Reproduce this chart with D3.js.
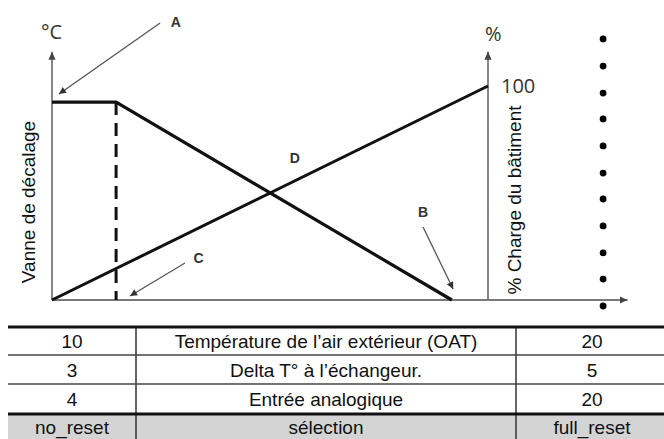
<!DOCTYPE html>
<html>
<head>
<meta charset="utf-8">
<script src="https://cdn.jsdelivr.net/npm/d3@7/dist/d3.min.js"></script>
<style>
  html, body { margin: 0; padding: 0; background: #fff; }
  svg { display: block; }
  .cell-text { font-family: "Liberation Sans", Arial, sans-serif; font-size: 19px; fill: #111; }
  .axis-title { font-family: "Liberation Sans", Arial, sans-serif; font-size: 19px; fill: #111; }
  .unit { font-family: "Open Sans", sans-serif; font-size: 20px; fill: #333; }
  .tag { font-family: "Liberation Sans", Arial, sans-serif; font-size: 14px; font-weight: bold; fill: #333; }
</style>
</head>
<body>
<svg id="chart" width="664" height="439"></svg>
<script>
// temperature curve (°C side) : plateau then decline
const tempLine = [[0, 92.5], [14.7, 92.5], [91.7, 0]];
// building load (% side)
const loadLine = [[0, 0], [100, 100]];
const breakX = 14.7;
const axisTopY = 116;
const axisEndX = 132;
const dotX = 126.4;
const dotValues = [122.0, 109.3, 96.7, 84.6, 72.0, 59.3, 47.2, 34.6, 22.0, 9.8, -2.8];

// annotations: label, label position, arrow start, arrow end
const tags = [
  { label: "A", at: [28.4, 127.6], from: [24.8, 129.4], to: [1.6, 96.3] },
  { label: "B", at: [85.1, 38.8], from: [85.1, 34.1], to: [92.0, 5.1] },
  { label: "C", at: [33.6, 17.3], from: [30.5, 17.3], to: [17.9, 1.9] },
  { label: "D", at: [55.7, 64.0], from: null, to: null }
];

const leftTitle = "Vanne de décalage";
const rightTitle = "% Charge du bâtiment";
const rightTick = "100";

// table
const colMin = ["10", "3", "4", "no_reset"];
const colLabel = ["Température de l’air extérieur (OAT)", "Delta T° à l’échangeur.", "Entrée analogique", "sélection"];
const colMax = ["20", "5", "20", "full_reset"];

const svg = d3.select("#chart");

const x = d3.scaleLinear().domain([0, 100]).range([52, 488]);
const y = d3.scaleLinear().domain([0, 100]).range([300, 86]);

const defs = svg.append("defs");
defs.append("marker")
    .attr("id", "axisHead")
    .attr("viewBox", "0 0 10 10")
    .attr("refX", 10).attr("refY", 5)
    .attr("markerWidth", 8).attr("markerHeight", 8)
    .attr("markerUnits", "userSpaceOnUse")
    .attr("orient", "auto")
  .append("path")
    .attr("d", "M0,0.5L10,5L0,9.5Z")
    .attr("fill", "#444");

defs.append("marker")
    .attr("id", "tagHead")
    .attr("viewBox", "0 0 10 10")
    .attr("refX", 10).attr("refY", 5)
    .attr("markerWidth", 8).attr("markerHeight", 7)
    .attr("markerUnits", "userSpaceOnUse")
    .attr("orient", "auto")
  .append("path")
    .attr("d", "M0,0L10,5L0,10Z")
    .attr("fill", "#333");

const axisColor = "#7a7a7a";

// axes
svg.append("line")
    .attr("x1", x(0)).attr("y1", y(0))
    .attr("x2", x(axisEndX)).attr("y2", y(0))
    .attr("stroke", axisColor).attr("stroke-width", 2)
    .attr("marker-end", "url(#axisHead)");

svg.append("line")
    .attr("x1", x(0)).attr("y1", y(0))
    .attr("x2", x(0)).attr("y2", y(axisTopY))
    .attr("stroke", axisColor).attr("stroke-width", 1.8)
    .attr("marker-end", "url(#axisHead)");

svg.append("line")
    .attr("x1", x(100)).attr("y1", y(0))
    .attr("x2", x(100)).attr("y2", y(axisTopY))
    .attr("stroke", axisColor).attr("stroke-width", 1.8)
    .attr("marker-end", "url(#axisHead)");

// units
svg.append("text").attr("class", "unit")
    .attr("x", x(0) - 11).attr("y", y(axisTopY) - 13)
    .text("°C");
svg.append("text").attr("class", "unit")
    .attr("x", x(100) - 3).attr("y", y(axisTopY) - 11)
    .text("%");
svg.append("text").attr("class", "unit")
    .attr("x", x(100) + 13).attr("y", y(100) + 7)
    .text(rightTick);

// axis titles
svg.append("text").attr("class", "axis-title")
    .attr("transform", `translate(35,${(y(0) + y(100)) / 2 + 9}) rotate(-90)`)
    .attr("text-anchor", "middle")
    .text(leftTitle);
svg.append("text").attr("class", "axis-title")
    .attr("transform", `translate(${x(100) + 33},${(y(0) + y(100)) / 2 + 7}) rotate(-90)`)
    .attr("text-anchor", "middle")
    .text(rightTitle);

// curves
const line = d3.line().x(d => x(d[0])).y(d => y(d[1]));

svg.append("path")
    .datum(loadLine)
    .attr("d", line)
    .attr("fill", "none").attr("stroke", "#111").attr("stroke-width", 3);

svg.append("path")
    .datum(tempLine)
    .attr("d", line)
    .attr("fill", "none").attr("stroke", "#111").attr("stroke-width", 3.2)
    .attr("stroke-linejoin", "miter");

svg.append("line")
    .attr("x1", x(breakX)).attr("y1", y(tempLine[1][1]))
    .attr("x2", x(breakX)).attr("y2", y(0))
    .attr("stroke", "#111").attr("stroke-width", 3)
    .attr("stroke-dasharray", "13,8");

// dotted column
svg.selectAll(".dot")
    .data(dotValues)
    .join("circle")
    .attr("class", "dot")
    .attr("cx", x(dotX))
    .attr("cy", d => y(d))
    .attr("r", 3.4)
    .attr("fill", "#000");

// annotations
const tagArrows = tags.filter(t => t.from);
svg.selectAll(".tag-arrow")
    .data(tagArrows)
    .join("line")
    .attr("class", "tag-arrow")
    .attr("x1", d => x(d.from[0])).attr("y1", d => y(d.from[1]))
    .attr("x2", d => x(d.to[0])).attr("y2", d => y(d.to[1]))
    .attr("stroke", "#555").attr("stroke-width", 1.3)
    .attr("marker-end", "url(#tagHead)");

svg.selectAll(".tag")
    .data(tags)
    .join("text")
    .attr("class", "tag")
    .attr("x", d => x(d.at[0]))
    .attr("y", d => y(d.at[1]))
    .attr("text-anchor", "middle")
    .text(d => d.label);

// table
const tableX = [8, 136, 516, 672];
const rowY = [327, 355, 384, 414, 440];
const tbl = svg.append("g");

tbl.append("rect")
    .attr("x", tableX[0]).attr("y", rowY[3])
    .attr("width", tableX[3] - tableX[0]).attr("height", rowY[4] - rowY[3])
    .attr("fill", "#d4d4d4");

[1, 2].forEach(i => {
  tbl.append("line")
      .attr("x1", tableX[i]).attr("x2", tableX[i])
      .attr("y1", rowY[0]).attr("y2", rowY[4])
      .attr("stroke", "#333").attr("stroke-width", 1.5);
});

rowY.slice(0, 4).forEach((ry, i) => {
  const thick = i === 0 || i === 3;
  tbl.append("line")
      .attr("x1", tableX[0]).attr("x2", tableX[3])
      .attr("y1", ry).attr("y2", ry)
      .attr("stroke", thick ? "#111" : "#444")
      .attr("stroke-width", thick ? 3 : 1.6);
});

const columns = [colMin, colLabel, colMax];
columns.forEach((col, c) => {
  const cx = (tableX[c] + tableX[c + 1]) / 2 + (c === 2 ? -2 : 0);
  tbl.selectAll(`.col${c}`)
      .data(col)
      .join("text")
      .attr("class", `cell-text col${c}`)
      .attr("x", cx)
      .attr("y", (d, i) => (rowY[i] + rowY[i + 1]) / 2 + 7)
      .attr("text-anchor", "middle")
      .text(d => d);
});
</script>
</body>
</html>
